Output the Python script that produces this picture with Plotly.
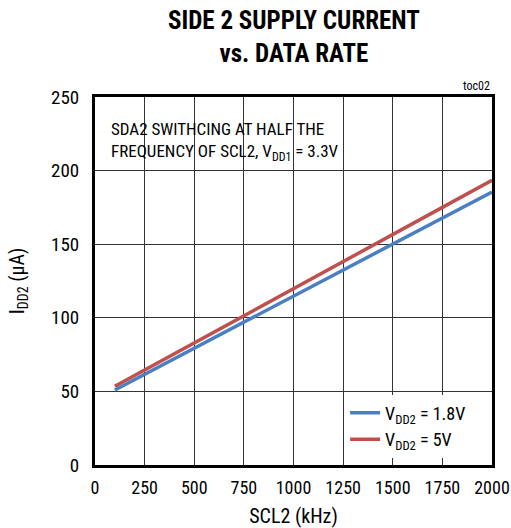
import plotly.graph_objects as go

scl2_khz = [100, 250, 500, 750, 1000, 1250, 1500, 1750, 2000]
idd2_1v8 = [51.0, 61.6, 79.3, 97.0, 114.7, 132.4, 150.1, 167.8, 185.5]
idd2_5v = [53.5, 64.5, 83.0, 101.4, 119.8, 138.2, 156.6, 175.0, 193.5]
x_ticks = [0, 250, 500, 750, 1000, 1250, 1500, 1750, 2000]
y_ticks = [0, 50, 100, 150, 200, 250]

FONT = "Roboto Condensed, Liberation Sans Narrow, Arial Narrow, sans-serif"

fig = go.Figure()
fig.add_trace(go.Scatter(x=scl2_khz, y=idd2_1v8, mode="lines",
                         name="V<sub>DD2</sub> = 1.8V",
                         line=dict(color="#4a7fc4", width=3.5)))
fig.add_trace(go.Scatter(x=scl2_khz, y=idd2_5v, mode="lines",
                         name="V<sub>DD2</sub> = 5V",
                         line=dict(color="#c0504d", width=3.5)))

axis_common = dict(showline=True, linecolor="black", linewidth=3, mirror=True,
                   showgrid=True, gridcolor="#333333", gridwidth=1,
                   zeroline=False, ticks="", ticklabeloverflow="allow", automargin=False)

fig.update_xaxes(range=[0, 2000], tickvals=x_ticks, ticklabelstandoff=4,
                 tickfont=dict(family=FONT, size=18, color="black"),
                 title=dict(text="SCL2 (kHz)", font=dict(family=FONT, size=20, color="black"), standoff=20),
                 **axis_common)
fig.update_yaxes(range=[0, 250], tickvals=y_ticks, ticklabelstandoff=9,
                 tickfont=dict(family=FONT, size=19, color="black"),
                 title=dict(text="I<sub>DD2</sub> (µA)", font=dict(family=FONT, size=20, color="black"), standoff=22),
                 **axis_common)

fig.update_layout(
    width=511, height=528,
    margin=dict(l=95, r=19, t=97, b=63),
    paper_bgcolor="white", plot_bgcolor="white",
    showlegend=True,
    legend=dict(x=0.63, y=0.02, xanchor="left", yanchor="bottom",
                bgcolor="white", borderwidth=0,
                font=dict(family=FONT, size=18, color="black"),
                tracegroupgap=0, itemwidth=30),
    annotations=[
        dict(text="<b>SIDE 2 SUPPLY CURRENT<br>vs. DATA RATE</b>",
             x=0.5, y=1.0, xref="paper", yref="paper", xanchor="center", yanchor="top",
             yshift=93, showarrow=False, align="center",
             font=dict(family=FONT, size=25, color="black")),
        dict(text="toc02", x=1.0, y=1.0, xref="paper", yref="paper",
             xanchor="right", yanchor="bottom", showarrow=False, yshift=2,
             font=dict(family=FONT, size=12, color="black")),
        dict(text="SDA2 SWITHCING AT HALF THE<br>FREQUENCY OF SCL2, V<sub>DD1</sub> = 3.3V",
             x=0.035, y=0.945, xref="paper", yref="paper", align="left",
             xanchor="left", yanchor="top", showarrow=False,
             font=dict(family=FONT, size=17, color="black")),
    ],
)

fig.write_html("out.html")
